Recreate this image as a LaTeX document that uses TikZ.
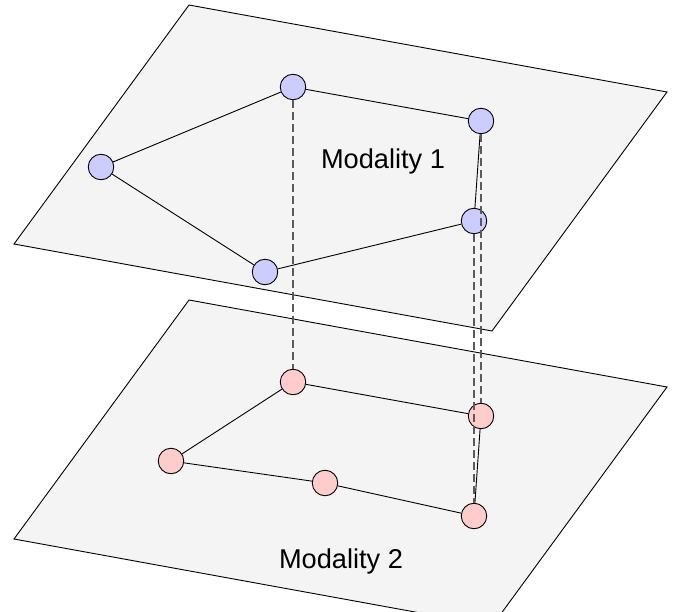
\documentclass[tikz,border=0pt]{standalone}
\usepackage{fontspec}
\setmainfont{Liberation Sans}
\definecolor{planefill}{HTML}{F4F4F4}
\definecolor{bluefill}{HTML}{CCCCFF}
\definecolor{pinkfill}{HTML}{FFCCCC}
\definecolor{dashgray}{HTML}{5A5A5A}
\tikzset{
  plane/.style={draw=black, fill=planefill, line width=0.9pt},
  bnode/.style={circle, draw=black, fill=bluefill, line width=0.9pt, minimum size=25.5pt, inner sep=0pt},
  pnode/.style={circle, draw=black, fill=pinkfill, line width=0.9pt, minimum size=25.5pt, inner sep=0pt},
  edge/.style={draw=black, line width=0.9pt},
  link/.style={draw=dashgray, line width=1.4pt, dash pattern=on 8pt off 4pt},
  label/.style={font=\fontsize{27.2}{32}\selectfont, anchor=base, inner sep=0pt}
}
\begin{document}
\begin{tikzpicture}[x=1pt,y=-1pt]
\useasboundingbox (0,0) rectangle (675,612);
\begin{scope}
\clip (0,0) rectangle (675,612);
\draw[plane] (189,5) -- (667,92) -- (492,331) -- (14,244) -- cycle;
\draw[plane] (189,300) -- (667,387) -- (492,626) -- (14,539) -- cycle;
\end{scope}
\node[label] (m1) at (383,169) {Modality 1};
\node[label] (m2) at (341,568) {Modality 2};
% top nodes
\node[bnode] (A) at (293,87) {};
\node[bnode] (B) at (481,121) {};
\node[bnode] (C) at (101,167) {};
\node[bnode] (D) at (474,221) {};
\node[bnode] (E) at (265,272) {};
% bottom nodes
\node[pnode] (F) at (293,382) {};
\node[pnode] (G) at (481,416) {};
\node[pnode] (H) at (171,461) {};
\node[pnode] (I) at (325,483) {};
\node[pnode] (J) at (474,516) {};
% edges
\draw[edge] (C) -- (A);
\draw[edge] (A) -- (B);
\draw[edge] (B) -- (D);
\draw[edge] (D) -- (E);
\draw[edge] (E) -- (C);
\draw[edge] (F) -- (G);
\draw[edge] (F) -- (H);
\draw[edge] (H) -- (I);
\draw[edge] (I) -- (J);
\draw[edge] (J) -- (G);
% links
\draw[link] (A) -- (F);
\draw[link] (B) -- (G);
\draw[link] (D) -- (J);
\end{tikzpicture}
\end{document}
